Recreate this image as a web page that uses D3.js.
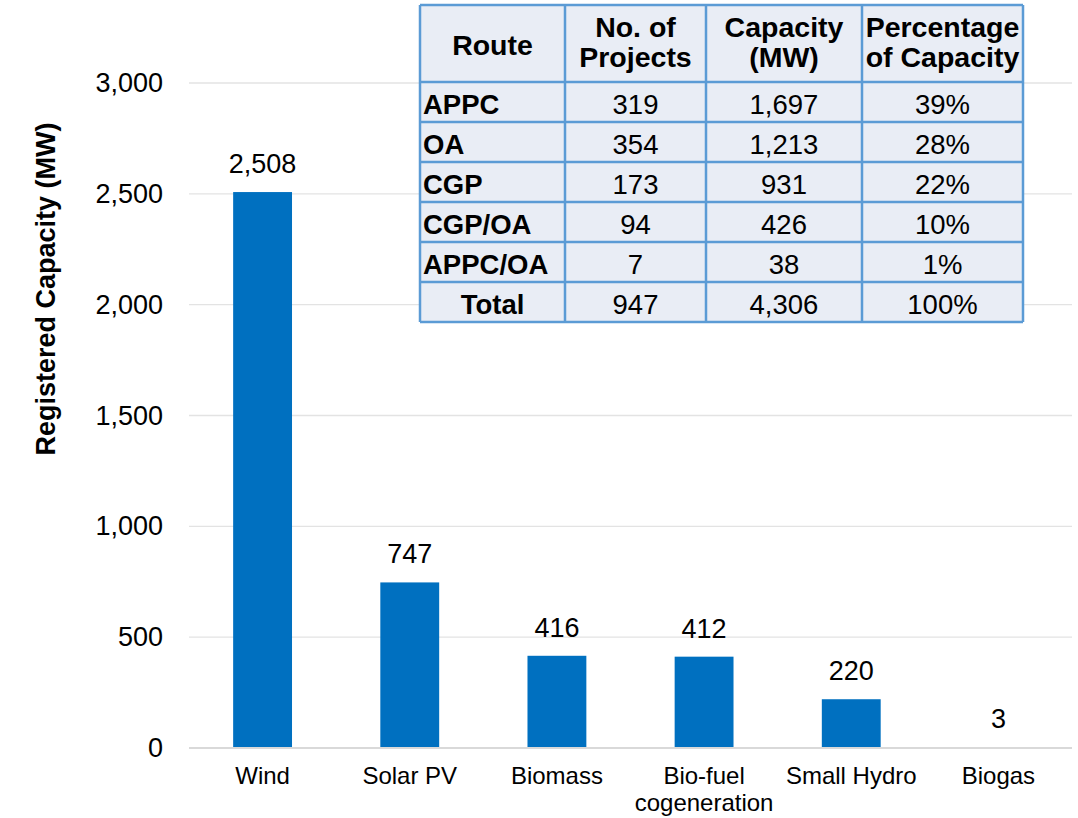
<!DOCTYPE html>
<html>
<head>
<meta charset="utf-8">
<script src="https://cdn.jsdelivr.net/npm/d3@7"></script>
<style>
  body { margin: 0; background: #fff; }
  text { font-family: "Liberation Sans", Arial, sans-serif; fill: #000; }
</style>
</head>
<body>
<svg width="1078" height="818"></svg>
<script>
// chart data
var categories = ["Wind", "Solar PV", "Biomass", "Bio-fuel cogeneration", "Small Hydro", "Biogas"];
var capacity = [2508, 747, 416, 412, 220, 3];
var yTicks = [0, 500, 1000, 1500, 2000, 2500, 3000];

// table data
var tableHeader = [["Route"], ["No. of", "Projects"], ["Capacity", "(MW)"], ["Percentage", "of Capacity"]];
var routes = ["APPC", "OA", "CGP", "CGP/OA", "APPC/OA", "Total"];
var projects = ["319", "354", "173", "94", "7", "947"];
var routeCapacity = ["1,697", "1,213", "931", "426", "38", "4,306"];
var percentage = ["39%", "28%", "22%", "10%", "1%", "100%"];

var svg = d3.select("svg"),
    margin = {top: 83, right: 6, bottom: 70, left: 189},
    width = +svg.attr("width") - margin.left - margin.right,
    height = +svg.attr("height") - margin.top - margin.bottom;

var x = d3.scaleBand().domain(categories).range([0, width]).paddingInner(0.6).paddingOuter(0.3),
    y = d3.scaleLinear().domain([0, 3000]).range([height, 0]);

var g = svg.append("g")
    .attr("transform", "translate(" + margin.left + "," + margin.top + ")");

// gridlines
g.append("g")
  .selectAll("line")
  .data(yTicks.slice(1))
  .enter().append("line")
    .attr("x1", 0).attr("x2", width)
    .attr("y1", function(d) { return y(d); })
    .attr("y2", function(d) { return y(d); })
    .attr("stroke", "#e3e3e3")
    .attr("stroke-width", 1.3);

// y axis labels
var yAxis = g.append("g")
    .call(d3.axisLeft(y).tickValues(yTicks).tickFormat(d3.format(",")).tickSize(0).tickPadding(26));
yAxis.select(".domain").remove();
yAxis.selectAll("text")
    .style("font-size", "27px")
    .style("font-family", "Liberation Sans, Arial, sans-serif");

// bars
g.selectAll(".bar")
  .data(categories)
  .enter().append("rect")
    .attr("class", "bar")
    .attr("x", function(d) { return x(d); })
    .attr("y", function(d, i) { return y(capacity[i]); })
    .attr("width", x.bandwidth())
    .attr("height", function(d, i) { return height - y(capacity[i]); })
    .attr("fill", "#0070C0");

// baseline
g.append("line")
    .attr("x1", 0).attr("x2", width)
    .attr("y1", height).attr("y2", height)
    .attr("stroke", "#d9d9d9")
    .attr("stroke-width", 2);

// value labels
g.selectAll(".val")
  .data(categories)
  .enter().append("text")
    .attr("class", "val")
    .attr("x", function(d) { return x(d) + x.bandwidth() / 2; })
    .attr("y", function(d, i) { return y(capacity[i]) - 19; })
    .attr("text-anchor", "middle")
    .style("font-size", "27px")
    .text(function(d, i) { return d3.format(",")(capacity[i]); });

// x axis labels (wrap Bio-fuel cogeneration)
var xl = g.selectAll(".xl")
  .data(categories)
  .enter().append("text")
    .attr("class", "xl")
    .attr("x", function(d) { return x(d) + x.bandwidth() / 2; })
    .attr("y", height + 36)
    .attr("text-anchor", "middle")
    .style("font-size", "24px");
xl.each(function(d) {
  var lines = d === "Bio-fuel cogeneration" ? ["Bio-fuel", "cogeneration"] : [d];
  var t = d3.select(this);
  lines.forEach(function(l, i) {
    t.append("tspan")
      .attr("x", x(d) + x.bandwidth() / 2)
      .attr("dy", i === 0 ? 0 : 27)
      .text(l);
  });
});

// y title
svg.append("text")
    .attr("transform", "translate(55,289) rotate(-90)")
    .attr("text-anchor", "middle")
    .style("font-size", "27px")
    .style("font-weight", "bold")
    .text("Registered Capacity (MW)");

// table
var colEdges = [420, 565, 706, 862, 1023];
var headTop = 5, headBottom = 82, tableBottom = 322;
var row = d3.scaleBand().domain(routes).range([headBottom, tableBottom]);
var columns = [routes, projects, routeCapacity, percentage];

var tbl = svg.append("g");
tbl.append("rect")
    .attr("x", colEdges[0]).attr("y", headTop)
    .attr("width", colEdges[4] - colEdges[0])
    .attr("height", tableBottom - headTop)
    .attr("fill", "#E9EDF5");

// header
tableHeader.forEach(function(h, c) {
  var cx = (colEdges[c] + colEdges[c + 1]) / 2;
  var t = tbl.append("text")
      .attr("text-anchor", "middle")
      .style("font-size", "28.5px")
      .style("font-weight", "bold");
  var start = h.length === 1 ? 55 : 37;
  h.forEach(function(l, i) {
    t.append("tspan").attr("x", cx).attr("y", start + i * 30).text(l);
  });
});

// body cells
columns.forEach(function(col, c) {
  tbl.selectAll(".c" + c)
    .data(col)
    .enter().append("text")
      .attr("x", function(d, i) {
        if (c === 0 && routes[i] !== "Total") return colEdges[0] + 3;
        return (colEdges[c] + colEdges[c + 1]) / 2;
      })
      .attr("y", function(d, i) { return row(routes[i]) + row.bandwidth() / 2 + 12; })
      .attr("text-anchor", function(d, i) { return (c === 0 && routes[i] !== "Total") ? "start" : "middle"; })
      .style("font-size", "27.5px")
      .style("font-weight", function(d, i) { return (c === 0) ? "bold" : "normal"; })
      .text(function(d) { return d; });
});

// borders
var bc = "#5B9BD5";
[headTop, headBottom].concat(routes.map(function(r) { return row(r) + row.bandwidth(); })).forEach(function(yy) {
  tbl.append("line").attr("x1", colEdges[0]).attr("x2", colEdges[4])
    .attr("y1", yy).attr("y2", yy).attr("stroke", bc).attr("stroke-width", 2.5);
});
colEdges.forEach(function(xx) {
  tbl.append("line").attr("x1", xx).attr("x2", xx)
    .attr("y1", headTop).attr("y2", tableBottom).attr("stroke", bc).attr("stroke-width", 2.5);
});
</script>
</body>
</html>
